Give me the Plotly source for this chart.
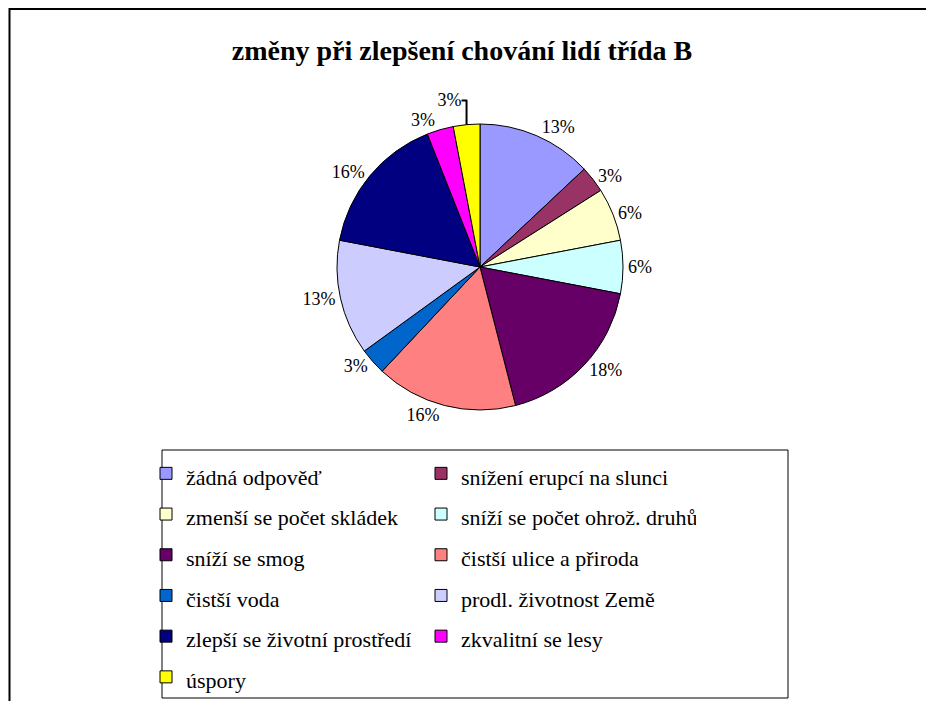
import plotly.graph_objects as go

labels = ["žádná odpověď", "snížení erupcí na slunci", "zmenší se počet skládek",
          "sníží se počet ohrož. druhů", "sníží se smog", "čistší ulice a přiroda",
          "čistší voda", "prodl. životnost Země", "zlepší se životní prostředí",
          "zkvalitní se lesy", "úspory"]
values = [13, 3, 6, 6, 18, 16, 3, 13, 16, 3, 3]
colors = ["#9999FF", "#993366", "#FFFFCC", "#CCFFFF", "#660066", "#FF8080",
          "#0066CC", "#CCCCFF", "#000080", "#FF00FF", "#FFFF00"]
title = "změny při zlepšení chování lidí třída B"

SERIF = "Liberation Serif, Times New Roman, serif"
OFF = 8  # page body margin
W, H = 934 - OFF, 701 - OFF
ML, MR, MT, MB = 0, W - 770, 0, 0
GW = W - ML - MR
GH = H - MT - MB

def px(x):
    return (x - OFF - ML) / GW

def py(y):
    return 1 - (y - OFF - MT) / GH

# larger legend base font gives the wide row spacing; text itself is 22px
legend_text = ['<span style="font-size:22px">' + l + '</span>' for l in labels]

fig = go.Figure(go.Pie(
    labels=legend_text,
    values=values,
    sort=False,
    direction="clockwise",
    rotation=0,
    marker=dict(colors=colors, line=dict(color="black", width=1)),
    textinfo="percent",
    texttemplate="%{percent:.0%}",
    textposition="outside",
    outsidetextfont=dict(family=SERIF, size=18, color="black"),
    domain=dict(x=[px(182), px(778)], y=[py(410), py(124)]),
    hoverinfo="percent",
    automargin=False,
))

fig.update_layout(
    width=W, height=H,
    margin=dict(l=ML, r=MR, t=MT, b=MB, autoexpand=False),
    paper_bgcolor="white",
    plot_bgcolor="white",
    font=dict(family=SERIF, color="black"),
    title=dict(text="<b>" + title + "</b>", x=(462 - OFF) / W, xref="container",
               y=1 - (52 - OFF - 2) / H, yref="container", xanchor="center", yanchor="middle",
               font=dict(family=SERIF, size=28, color="black")),
    showlegend=True,
    legend=dict(
        orientation="h",
        x=px(146), y=py(448), xanchor="left", yanchor="top",
        font=dict(family=SERIF, size=29, color="black"),
        entrywidth=230, entrywidthmode="pixels",
        itemwidth=30,
        bgcolor="rgba(0,0,0,0)",
        borderwidth=0,
        traceorder="normal",
    ),
    shapes=[
        dict(type="rect", xref="paper", yref="paper",
             x0=px(9.5), x1=px(1000), y0=py(760), y1=py(9),
             line=dict(color="black", width=2), fillcolor="rgba(0,0,0,0)", layer="below"),
        dict(type="rect", xref="paper", yref="paper",
             x0=px(162), x1=px(788), y0=py(698), y1=py(450),
             line=dict(color="black", width=1), fillcolor="rgba(0,0,0,0)", layer="below"),
    ],
)

fig.write_html("out.html")
